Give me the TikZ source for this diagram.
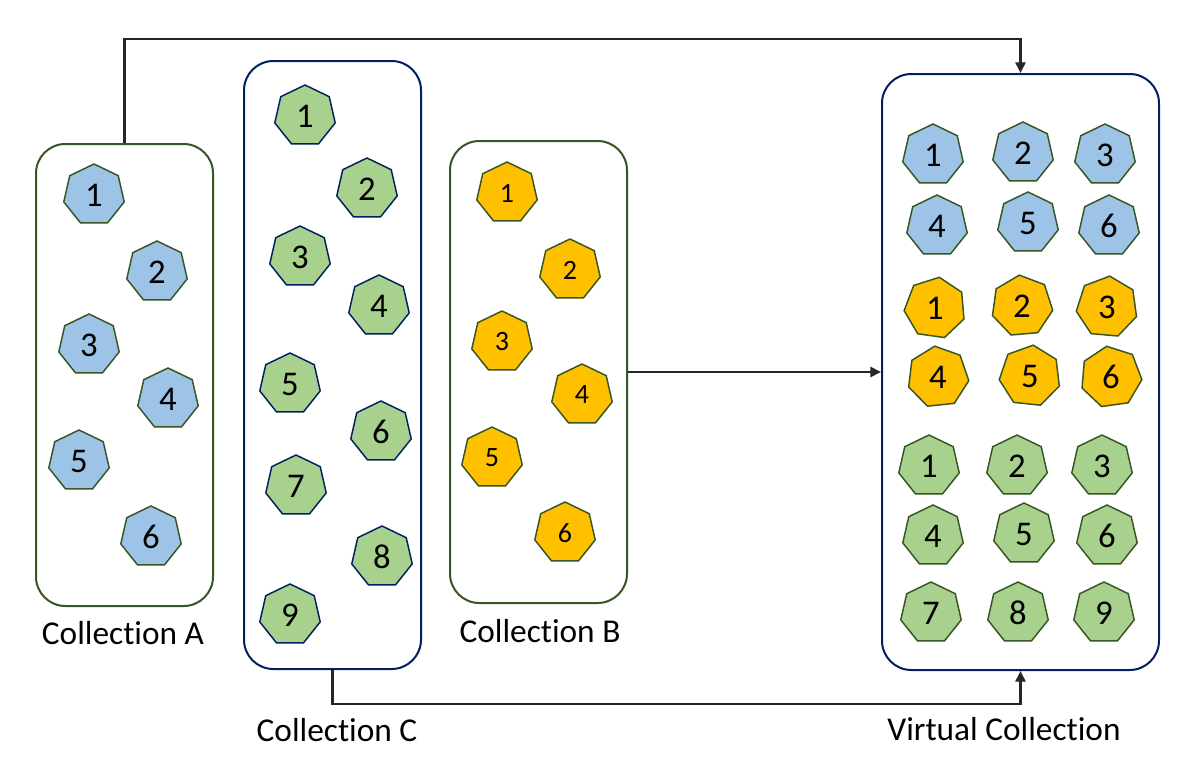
\documentclass[tikz,border=0pt]{standalone}
\usepackage{fontspec}
\setmainfont{Carlito}[Ligatures={NoCommon}]
\usepackage{tikz}
\usetikzlibrary{shapes.geometric, arrows.meta, positioning}
\definecolor{fillblue}{HTML}{9DC3E6}
\definecolor{fillgreen}{HTML}{A9D18E}
\definecolor{fillorange}{HTML}{FFC000}
\definecolor{edgegreen}{HTML}{375623}
\definecolor{edgenavy}{HTML}{002060}
\definecolor{linkgray}{HTML}{262626}
\begin{document}
\begin{tikzpicture}[x=0.75pt, y=-0.75pt,
        coll/.style={draw, line width=1.5pt, rounded corners=22pt, fill=white, minimum width=132.75pt, minimum height=346.5pt},
        hept/.style={regular polygon, regular polygon sides=7, minimum size=46.5pt, inner sep=0pt, line width=1.1pt, draw=edgegreen, font=\fontsize{26}{26}\selectfont},
        blueh/.style={hept, fill=fillblue},
        greenh/.style={hept, fill=fillgreen},
        orangeh/.style={hept, fill=fillorange},
        lbl/.style={font=\fontsize{25}{28}\selectfont},
        link/.style={line width=1.9pt, draw=linkgray, -{Triangle[length=8pt, width=7.5pt]}}
    ]
    \useasboundingbox (0,0) rectangle (1197,771);

    \node (colA) [coll, draw=edgegreen] at (124.5,375) {};
    \node (colC) [coll, draw=edgenavy, minimum height=456pt] at (332.5,365) {};
    \node (colB) [coll, draw=edgegreen] at (538.5,372) {};
    \node (virt) [coll, draw=edgenavy, minimum width=207.75pt, minimum height=447pt] at (1020.5,372) {};

    \node (lblA) [lbl] at (123,633) {Collection A};
    \node (lblC) [lbl] at (337,730) {Collection C};
    \node (lblB) [lbl] at (540,631) {Collection B};
    \node (lblV) [lbl] at (1004,729) {Virtual Collection};

    \foreach \n/\x/\y in {1/94/195, 2/157/272, 3/89/345, 4/168/399, 5/79/461, 6/151/537}
        \node (a\n) [blueh] at (\x,\y) {\n};
    \foreach \n/\x/\y in {1/305/116, 2/367/189, 3/300/257, 4/379/306, 5/290/384, 6/381/432, 7/296/486, 8/382/557, 9/290/615}
        \node (c\n) [greenh, draw=edgenavy] at (\x,\y) {\n};
    \foreach \n/\x/\y in {1/507/193, 2/570/270, 3/502/342, 4/582/395, 5/492/458, 6/565/533}
        \node (b\n) [orangeh, font=\fontsize{21}{21}\selectfont] at (\x,\y) {\n};

    \foreach \n/\x/\y in {1/933/155, 2/1023/153, 3/1105/155, 4/937/226, 5/1028/223, 6/1109/226}
        \node (va\n) [blueh] at (\x,\y) {\n};
    \foreach \n/\x/\y/\r in {1/935/308/-8, 2/1022/306/5, 3/1107/307/-5, 4/938/377/6, 5/1030/376/-6, 6/1111/377/8}
        \node (vb\n) [orangeh, shape border rotate=\r] at (\x,\y) {\n};
    \foreach \n/\x/\y in {1/929/466, 2/1017/466, 3/1102/466, 4/933/536, 5/1024/534, 6/1107/536, 7/931/613, 8/1018/613, 9/1104/613}
        \node (vc\n) [greenh] at (\x,\y) {\n};

    \coordinate (topline) at (0,39);
    \coordinate (botline) at (0,704);
    \draw[link] (colA.north) -- (colA.north |- topline) -| (virt.north);
    \draw[link] (colB.east) -- (virt.west);
    \draw[link] (colC.south) -- (colC.south |- botline) -| (virt.south);
\end{tikzpicture}
\end{document}
